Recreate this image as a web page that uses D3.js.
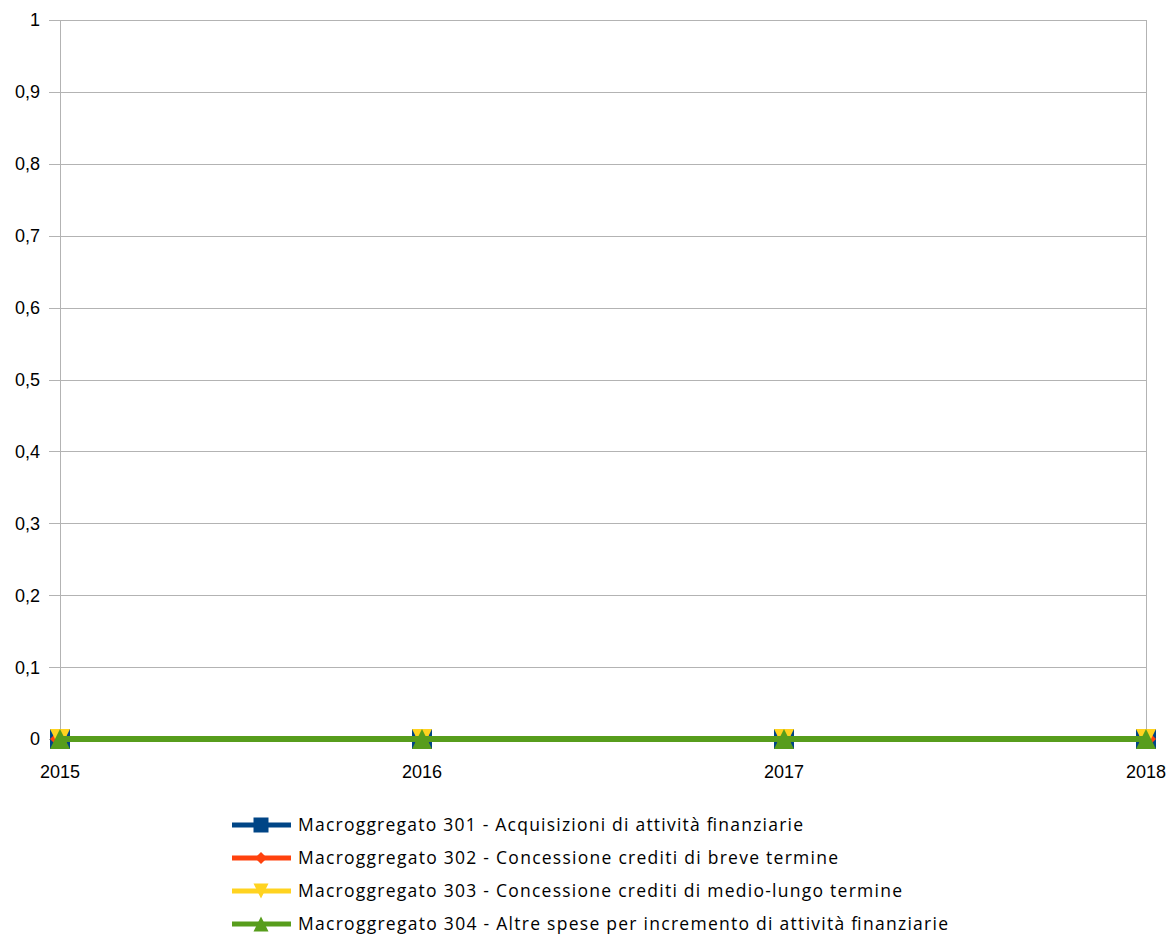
<!DOCTYPE html>
<html><head><meta charset="utf-8">
<script src="https://cdn.jsdelivr.net/npm/d3@7"></script>
<style>body{margin:0;background:#fff}svg{display:block}text{font-family:"Liberation Sans",Arial,sans-serif}</style>
</head><body>
<svg id="c" width="1169" height="938"></svg>
<script>
const years = ["2015","2016","2017","2018"];
const seriesNames = [
  "Macroggregato 301 - Acquisizioni di attività finanziarie",
  "Macroggregato 302 - Concessione crediti di breve termine",
  "Macroggregato 303 - Concessione crediti di medio-lungo termine",
  "Macroggregato 304 - Altre spese per incremento di attività finanziarie"
];
const s301 = [0,0,0,0];
const s302 = [0,0,0,0];
const s303 = [0,0,0,0];
const s304 = [0,0,0,0];
const yTicks = [0,0.1,0.2,0.3,0.4,0.5,0.6,0.7,0.8,0.9,1];
const colors = ["#004586","#ff420e","#ffd320","#579d1c"];
const markerTypes = ["square","diamond","down","up"];
const legendTextWidths = [505,540,604,650];
const allSeries = [s301,s302,s303,s304];

function marker(type, s){
  const h = s/2;
  switch(type){
    case "square": return `M${-h},${-h}H${h}V${h}H${-h}Z`;
    case "diamond": return `M0,${-h}L${h},0L0,${h}L${-h},0Z`;
    case "down": return `M${-h},${-h}H${h}L0,${h}Z`;
    case "up": return `M${-h},${h}H${h}L0,${-h}Z`;
  }
}

const svg = d3.select("#c");
const L=60,R=1146,T=20,B=739;
const x = d3.scalePoint().domain(years).range([L,R]);
const y = d3.scaleLinear().domain([0,1]).range([B,T]);

// grid
svg.append("g").selectAll("line").data(yTicks).join("line")
  .attr("x1",L-11).attr("x2",R).attr("y1",d=>Math.round(y(d))+0.5).attr("y2",d=>Math.round(y(d))+0.5)
  .attr("stroke","#b3b3b3").attr("stroke-width",1);
// vertical axis line + x ticks at ends
[years[0], years[years.length-1]].forEach(v=>{
  svg.append("line").attr("x1",Math.round(x(v))+0.5).attr("x2",Math.round(x(v))+0.5).attr("y1",T).attr("y2",B+10)
    .attr("stroke","#b3b3b3");
});
svg.append("g").selectAll("line").data(years.slice(1,-1)).join("line")
  .attr("x1",d=>Math.round(x(d))+0.5).attr("x2",d=>Math.round(x(d))+0.5).attr("y1",B).attr("y2",B+10)
  .attr("stroke","#b3b3b3");
// y labels
svg.append("g").selectAll("text").data(yTicks).join("text")
  .attr("x",40).attr("y",d=>y(d)).attr("dy","0.36em").attr("text-anchor","end")
  .attr("font-size",18).attr("fill","#000")
  .text(d=>d3.format(".1~f")(d).replace(".",","));
// x labels
svg.append("g").selectAll("text").data(years).join("text")
  .attr("x",d=>x(d)).attr("y",778).attr("text-anchor","middle")
  .attr("font-size",18).attr("fill","#000").text(d=>d);

const line = d3.line().x((d,i)=>x(years[i])).y(d=>y(d));
allSeries.forEach((s,k)=>{
  const g = svg.append("g");
  g.append("path").datum(s).attr("d",line).attr("fill","none")
    .attr("stroke",colors[k]).attr("stroke-width",6);
  g.selectAll("path.m").data(s).join("path").attr("class","m")
    .attr("d",marker(markerTypes[k],20))
    .attr("transform",(d,i)=>`translate(${x(years[i])},${y(d)})`)
    .attr("fill",colors[k]);
});

// legend
const lg = svg.append("g");
const rowsY = [825,858,891,924];
seriesNames.forEach((n,k)=>{
  const gy = rowsY[k];
  lg.append("line").attr("x1",232).attr("x2",291).attr("y1",gy).attr("y2",gy)
    .attr("stroke",colors[k]).attr("stroke-width",5);
  lg.append("path").attr("d",marker(markerTypes[k], k===1?12:15))
    .attr("transform",`translate(261,${gy})`).attr("fill",colors[k]);
  lg.append("text").attr("x",298).attr("y",gy).attr("dy","0.36em")
    .style("font-family","'Open Sans',sans-serif")
    .attr("font-size",17.5).attr("fill","#000")
    .attr("textLength",legendTextWidths[k]).attr("lengthAdjust","spacing").text(n);
});
</script>
</body></html>
